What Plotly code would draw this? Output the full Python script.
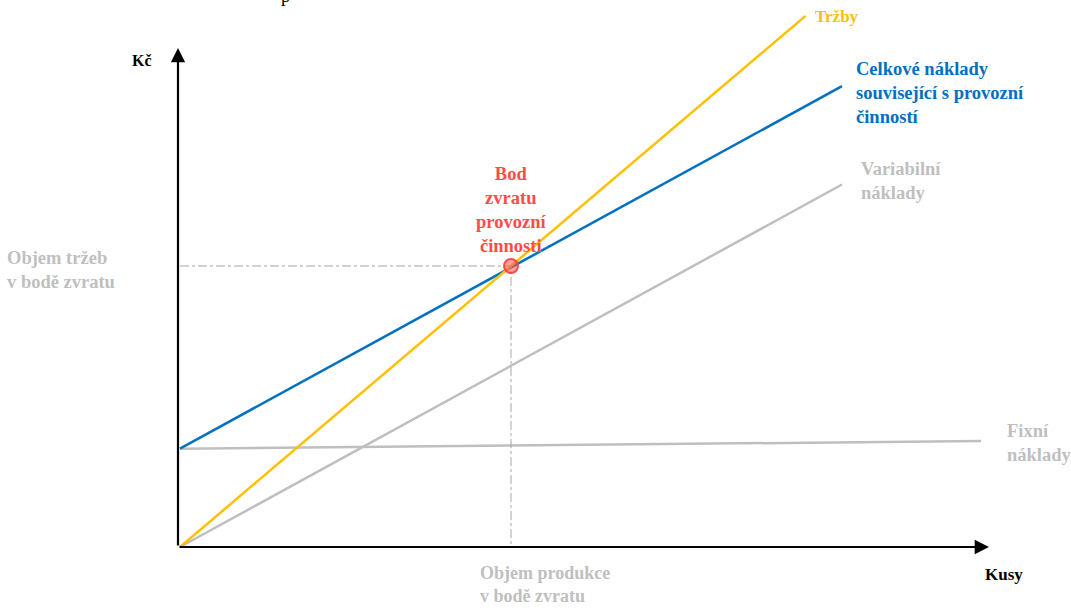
import plotly.graph_objects as go

# ---- data (units: kusy on x, Kč on y) ----
revenue_x = [0, 94.5]
revenue_y = [0, 189]
total_x = [0, 100]
total_y = [35, 164]
variable_x = [0, 100]
variable_y = [0, 129]
fixed_x = [0, 121]
fixed_y = [35, 37.7]
breakeven_x = 50
breakeven_y = 100

YELLOW = "#FFC000"
BLUE = "#0070C0"
GRAY = "#BFBFBF"
RED = "#FF4B4B"
FONT = "Liberation Serif"
FS = 18.5

W, H = 1071, 608
X0, Y0 = 180, 547          # pixel of origin
SX, SY = 6.62, 2.81        # px per unit
xr = [-X0 / SX, (W - X0) / SX]
yr = [(Y0 - H) / SY, Y0 / SY]


def px(x, y):
    return (x - X0) / SX, (Y0 - y) / SY


fig = go.Figure()

for xs, ys, c in [(fixed_x, fixed_y, GRAY), (variable_x, variable_y, GRAY),
                  (total_x, total_y, BLUE), (revenue_x, revenue_y, YELLOW)]:
    fig.add_trace(go.Scatter(x=xs, y=ys, mode="lines",
                             line=dict(color=c, width=2.5), hoverinfo="skip"))

# dash-dot guides to break-even
fig.add_trace(go.Scatter(x=[0, breakeven_x, breakeven_x], y=[breakeven_y, breakeven_y, 0],
                         mode="lines", line=dict(color="#A6A6A6", width=1, dash="dashdot"),
                         hoverinfo="skip"))
fig.add_trace(go.Scatter(x=[breakeven_x], y=[breakeven_y], mode="markers",
                         marker=dict(size=14, color="rgba(255,80,80,0.55)",
                                     line=dict(color="rgba(255,60,60,0.9)", width=2)),
                         hoverinfo="skip"))

ann = []
# axes with arrows
ax_top = px(178, 48)
ax_right = px(989, 546)
ann.append(dict(x=ax_top[0], y=ax_top[1], ax=ax_top[0], ay=0, xref="x", yref="y",
                axref="x", ayref="y", showarrow=True, arrowhead=2, arrowsize=1.3,
                arrowwidth=2.2, arrowcolor="black", text=""))
ann.append(dict(x=ax_right[0], y=0, ax=ax_top[0], ay=0, xref="x", yref="y",
                axref="x", ayref="y", showarrow=True, arrowhead=2, arrowsize=1.3,
                arrowwidth=2.2, arrowcolor="black", text=""))


def label(xp, yp, text, color, xanchor="left", align="left", yanchor="top", size=FS):
    x, y = px(xp, yp)
    ann.append(dict(x=x, y=y, xref="x", yref="y", text=text, showarrow=False,
                    xanchor=xanchor, yanchor=yanchor, align=align,
                    font=dict(family=FONT, size=size, color=color)))


label(130, 50, "<b>Kč</b>", "black", size=16)
label(983, 563, "<b>Kusy</b>", "black", size=17)
label(813, 5, "<b>Tržby</b>", YELLOW, size=17)
label(854, 57, "<b>Celkové náklady<br>související s provozní<br>činností</b>", BLUE)
label(859, 157, "<b>Variabilní<br>náklady</b>", GRAY)
label(1005, 419, "<b>Fixní<br>náklady</b>", GRAY)
label(5, 246, "<b>Objem tržeb<br>v bodě zvratu</b>", GRAY)
label(478, 608, "<b>Objem produkce<br>v bodě zvratu</b>", GRAY, yanchor="bottom", size=18)
label(511, 162, "<b>Bod<br>zvratu<br>provozní<br>činnosti</b>", RED, xanchor="center", align="center")
label(285, 8, "p", "black", xanchor="center", yanchor="bottom")

fig.update_layout(
    width=W, height=H, margin=dict(l=0, r=0, t=0, b=0),
    paper_bgcolor="white", plot_bgcolor="white", showlegend=False,
    xaxis=dict(range=xr, visible=False, fixedrange=True),
    yaxis=dict(range=yr, visible=False, fixedrange=True),
    annotations=ann,
)
fig.write_html("out.html")
